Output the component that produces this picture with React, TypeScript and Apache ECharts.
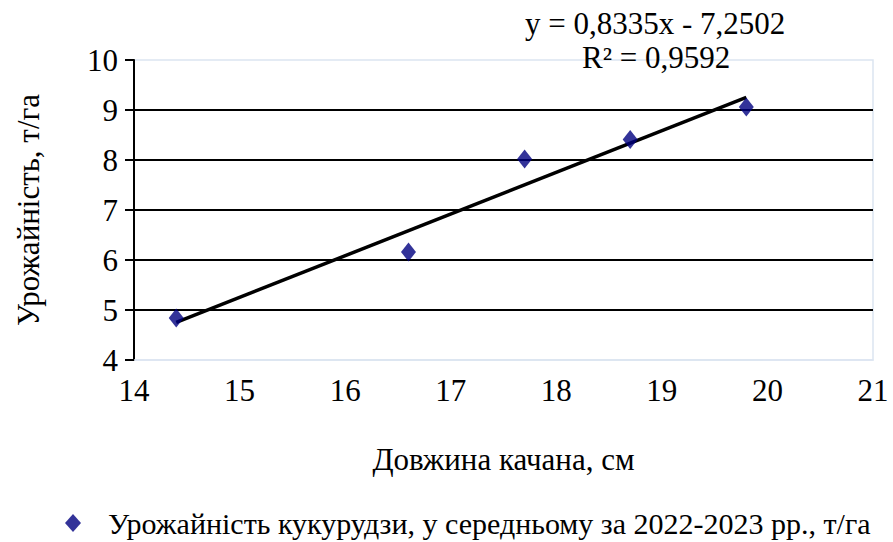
import React, { useEffect, useRef } from "react";
import * as echarts from "echarts";

// Ear length (cm) vs. average maize yield (t/ha), 2022–2023
const earLength: number[] = [14.4, 16.6, 17.7, 18.7, 19.8];
const yieldValues: number[] = [4.84, 6.16, 8.02, 8.41, 9.06];

// Linear trend as reported: y = 0,8335x - 7,2502, R² = 0,9592
const trendSlope = 0.8335;
const trendIntercept = -7.2502;
const trendR2 = 0.9592;

const xTicks = { min: 14, max: 21, interval: 1 };
const yTicks = { min: 4, max: 10, interval: 1 };

const seriesName = "Урожайність кукурудзи, у середньому за 2022-2023 рр., т/га";
const xAxisName = "Довжина качана, см";
const yAxisName = "Урожайність, т/га";

const FONT = "Liberation Serif";
const fmt = (v: number) => v.toFixed(4).replace(".", ",");

export default function App() {
  const ref = useRef<HTMLDivElement>(null);

  useEffect(() => {
    if (!ref.current) return;
    const chart = echarts.init(ref.current, undefined, { renderer: "svg" });

    const xStart = Math.min(...earLength);
    const xEnd = Math.max(...earLength);
    const trendLine = [
      [xStart, trendSlope * xStart + trendIntercept],
      [xEnd, trendSlope * xEnd + trendIntercept],
    ];

    chart.setOption({
      animation: false,
      backgroundColor: "#ffffff",
      textStyle: { fontFamily: FONT, color: "#000" },
      grid: {
        left: 134,
        right: 20,
        top: 60,
        bottom: 182,
        show: true,
        borderColor: "#dbe5f1",
        borderWidth: 1.5,
        containLabel: false,
      },
      xAxis: {
        type: "value",
        min: xTicks.min,
        max: xTicks.max,
        interval: xTicks.interval,
        name: xAxisName,
        nameLocation: "middle",
        nameGap: 84,
        nameTextStyle: { fontFamily: FONT, fontSize: 31, color: "#000" },
        axisLine: { show: true, lineStyle: { color: "#dbe5f1", width: 1.5 } },
        axisTick: { show: false },
        axisLabel: { fontFamily: FONT, fontSize: 31, color: "#000", margin: 15 },
        splitLine: { show: false },
      },
      yAxis: {
        type: "value",
        min: yTicks.min,
        max: yTicks.max,
        interval: yTicks.interval,
        name: yAxisName,
        nameLocation: "middle",
        nameGap: 90,
        nameTextStyle: { fontFamily: FONT, fontSize: 31, color: "#000" },
        axisLine: { show: true, lineStyle: { color: "#000", width: 2 } },
        axisTick: { show: true, length: 9, lineStyle: { color: "#000", width: 2 } },
        axisLabel: { fontFamily: FONT, fontSize: 31, color: "#000", margin: 16 },
        splitLine: {
          show: true,
          showMinLine: false,
          showMaxLine: false,
          lineStyle: { color: "#000", width: 2 },
        },
      },
      legend: {
        show: true,
        data: [{ name: seriesName, icon: "diamond" }],
        left: 60,
        top: 503,
        itemWidth: 16,
        itemHeight: 18,
        itemGap: 10,
        textStyle: { fontFamily: FONT, fontSize: 30, color: "#000", padding: [0, 0, 0, 22] },
      },
      graphic: [
        {
          type: "text",
          left: 525,
          top: 8,
          style: {
            text: `y = ${fmt(trendSlope)}x - ${fmt(Math.abs(trendIntercept))}`,
            font: `31px ${FONT}`,
            fill: "#000",
          },
        },
        {
          type: "text",
          left: 582,
          top: 42,
          style: {
            text: `R² = ${fmt(trendR2)}`,
            font: `31px ${FONT}`,
            fill: "#000",
          },
        },
      ],
      series: [
        {
          name: "Лінійна (тренд)",
          type: "line",
          data: trendLine,
          showSymbol: false,
          symbol: "none",
          lineStyle: { color: "#000", width: 3.5 },
          silent: true,
          z: 2,
        },
        {
          name: seriesName,
          type: "scatter",
          data: earLength.map((x, i) => [x, yieldValues[i]]),
          symbol: "diamond",
          symbolSize: [15, 19],
          itemStyle: { color: "#000080" },
          z: 3,
        },
      ],
    });

    return () => chart.dispose();
  }, []);

  return <div ref={ref} style={{ width: 893, height: 542, position: "absolute", left: 0, top: 0 }} />;
}
